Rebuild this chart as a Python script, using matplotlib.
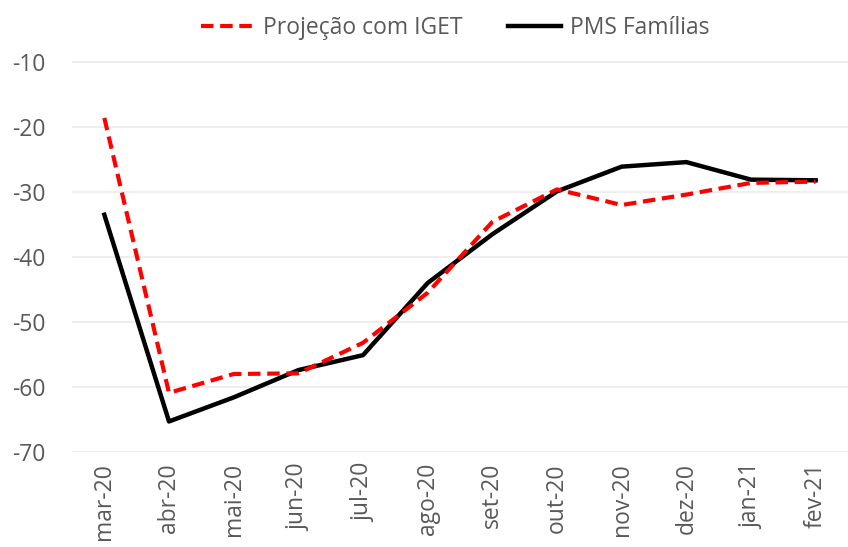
import matplotlib.pyplot as plt

months = ['mar-20', 'abr-20', 'mai-20', 'jun-20', 'jul-20', 'ago-20',
          'set-20', 'out-20', 'nov-20', 'dez-20', 'jan-21', 'fev-21']
projecao_iget = [-18.6, -60.9, -58.0, -57.9, -53.2, -45.5,
                 -34.6, -29.6, -32.0, -30.4, -28.6, -28.4]
pms_familias = [-33.5, -65.3, -61.6, -57.4, -55.1, -44.0,
                -36.5, -29.9, -26.1, -25.4, -28.1, -28.2]
y_ticks = [-70, -60, -50, -40, -30, -20, -10]

plt.rcParams['font.family'] = ['Open Sans', 'DejaVu Sans']
text_color = '#595959'

fig = plt.figure(figsize=(8.48, 5.47), dpi=100)
ax = fig.add_axes([72 / 848, 1 - 452 / 547, (848 - 72) / 848, (452 - 29.5) / 547])

x = range(len(months))
ax.plot(x, projecao_iget, color='#FF0000', lw=3, ls=(0, (3, 1.6)),
        label='Projeção com IGET', zorder=3)
ax.plot(x, pms_familias, color='black', lw=3.2, label='PMS Famílias', zorder=2)

ax.set_xlim(-0.5, len(months) - 0.5)
ax.set_ylim(-70, -5)
ax.set_yticks(y_ticks)
ax.set_yticklabels([str(t) for t in y_ticks])
ax.set_xticks(list(x))
ax.set_xticklabels(months, rotation=90)
ax.tick_params(axis='both', length=0, labelsize=16.5, colors=text_color)
ax.tick_params(axis='y', pad=19)
ax.tick_params(axis='x', pad=8)
ax.yaxis.grid(True, color='#EBEBEB', lw=1.2)
ax.set_axisbelow(True)
for s in ax.spines.values():
    s.set_visible(False)

leg = fig.legend(loc='center', bbox_to_anchor=(455 / 848, 1 - 28 / 547), ncol=2,
                 frameon=False, fontsize=16.5, handlelength=2.3, columnspacing=2.0,
                 handletextpad=0.4)
for t in leg.get_texts():
    t.set_color(text_color)

fig.savefig('out.png', dpi=100)
